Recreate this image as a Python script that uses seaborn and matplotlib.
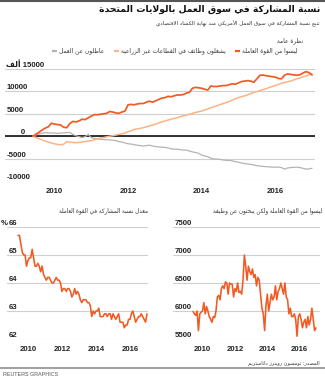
import matplotlib
matplotlib.use("Agg")
import matplotlib.pyplot as plt
from matplotlib.lines import Line2D
import pandas as pd
import seaborn as sns

# ---------------- data (thousands / percent), monthly Jun 2009 .. Jan 2017 ----------------
months = pd.date_range("2009-06-01", "2017-01-01", freq="MS")

not_in_labor_force = [
    0, 450, 900, 1400, 1800, 2100, 2900, 2700, 2600, 2500,
    2000, 1900, 2800, 3300, 3200, 3400, 3800, 3700, 4100, 4500,
    4800, 4800, 4900, 5000, 5100, 5500, 5400, 5200, 5100, 5400,
    5600, 7000, 7100, 7000, 7200, 7300, 7300, 7600, 7800, 7600,
    7900, 8200, 8500, 8600, 8900, 8800, 9000, 9200, 9200, 9300,
    9600, 9800, 10700, 10900, 10800, 10700, 10500, 10300, 11200, 11100,
    11100, 11200, 11300, 11300, 11500, 11700, 11600, 11900, 12200, 12300,
    12400, 12300, 12050, 12800, 13600, 13650, 13500, 13400, 13300, 13200,
    12900, 12800, 13600, 13900, 13800, 13700, 13600, 13700, 14100, 14400,
    14200, 13650]

nonfarm_payrolls = [
    0, -300, -600, -850, -1100, -1300, -1500, -1700, -1850, -1900,
    -1800, -1200, -1350, -1400, -1450, -1400, -1300, -1200, -1100, -1000,
    -800, -600, -450, -300, -150, 0, 100, 250, 400, 550,
    700, 1000, 1250, 1500, 1650, 1750, 1900, 2100, 2300, 2500,
    2700, 2950, 3200, 3400, 3600, 3800, 3950, 4150, 4350, 4550,
    4700, 4900, 5100, 5300, 5450, 5600, 5850, 6100, 6350, 6550,
    6800, 7050, 7300, 7500, 7750, 8050, 8350, 8600, 8850, 9000,
    9250, 9500, 9750, 9950, 10200, 10400, 10600, 10850, 11100, 11300,
    11550, 11800, 12000, 12150, 12300, 12550, 12800, 13000, 13250, 13450,
    13700, 13950]

unemployed = [
    0, 300, 500, 650, 800, 750, 700, 700, 650, 700,
    750, 800, 850, 400, 100, -100, -300, -100, 400, -300,
    -500, -600, -700, -750, -800, -800, -900, -1000, -1200, -1300,
    -1500, -1700, -1750, -1900, -2000, -2100, -2200, -2100, -2000, -2200,
    -2300, -2400, -2450, -2500, -2600, -2800, -2900, -2900, -3000, -3100,
    -3100, -3300, -3500, -3650, -3800, -4200, -4400, -4600, -4900, -5100,
    -5100, -5200, -5300, -5400, -5400, -5500, -5700, -5800, -6000, -6100,
    -6200, -6300, -6400, -6600, -6650, -6750, -6800, -6850, -6900, -6900,
    -6900, -7000, -7350, -7100, -7000, -6950, -6900, -7000, -7150, -7350,
    -7300, -7150]

participation_rate = [
    65.7, 65.7, 65.4, 65.1, 65.0, 65.0, 64.6,
    64.8, 64.9, 64.9, 65.2, 64.9, 64.6, 64.6, 64.7, 64.6, 64.4, 64.6, 64.3,
    64.2, 64.1, 64.2, 64.2, 64.1, 64.0, 64.0, 64.1, 64.2, 64.1, 64.1, 64.0,
    63.7, 63.8, 63.8, 63.7, 63.8, 63.8, 63.7, 63.5, 63.6, 63.8, 63.6, 63.7,
    63.6, 63.4, 63.3, 63.4, 63.4, 63.4, 63.3, 63.3, 63.2, 62.8, 63.0, 62.9,
    63.0, 63.0, 63.1, 62.8, 62.8, 62.8, 62.9, 62.9, 62.8, 62.9, 62.9, 62.7,
    62.9, 62.8, 62.7, 62.8, 62.9, 62.6, 62.6, 62.6, 62.4, 62.5, 62.5, 62.7,
    62.7, 62.9, 63.0, 62.8, 62.6, 62.7, 62.8, 62.8, 62.9, 62.8, 62.7, 62.6,
    62.9]

want_job = [
    5990, 5950, 5920, 6000, 5650, 5950, 5980, 6000, 6150, 5950,
    6080, 6000, 5900, 5850, 5800, 5900, 5880, 6000, 6250, 6280,
    6200, 6400, 6450, 6400, 6520, 6500, 6300, 6500, 6480, 6480,
    6250, 6400, 6350, 6500, 6330, 6350, 6300, 6550, 7000, 6800,
    6550, 6800, 6700, 6650, 6750, 6600, 6650, 6450, 6600, 6550,
    6300, 6050, 5950, 5650, 6100, 6300, 6000, 6150, 6300, 6200,
    6250, 6450, 6200, 6350, 6400, 6500, 6400, 6300, 6500, 6250,
    6200, 5950, 6050, 5900, 5900, 5950, 5850, 5550, 5900, 5950,
    5850, 5700, 5800, 5850, 5700, 5900, 5750, 5850, 6050, 5850,
    5650, 5700]

year_ticks = [2010, 2012, 2014, 2016]
year_labels = ["2010", "2012", "2014", "2016"]
main_ticks = [-10000, -5000, 0, 5000, 10000, 15000]
rate_ticks = [62, 63, 64, 65, 66]
want_ticks = [5500, 6000, 6500, 7000, 7500]

title = "نسبة المشاركة في سوق العمل بالولايات المتحدة"
subtitle = "تتبع نسبة المشاركة في سوق العمل الأمريكي منذ نهاية الكساد الاقتصادي"
section = "نظرة عامة"
legend_labels = ["ليسوا من القوة العاملة",
                 "يشغلون وظائف في القطاعات غير الزراعية",
                 "عاطلون عن العمل"]
unit = "ألف"
left_title = "معدل نسبة المشاركة في القوة العاملة"
right_title = "ليسوا من القوة العاملة ولكن يبحثون عن وظيفة"
source = "المصدر: تومسون رويترز داتاستريم"
credit = "REUTERS GRAPHICS"

# ---------------- Arabic shaping (presentation forms + RTL order) ----------------
FORMS = {
    'ء': ('\uFE80',), 'آ': ('\uFE81', '\uFE82'), 'أ': ('\uFE83', '\uFE84'),
    'ؤ': ('\uFE85', '\uFE86'), 'إ': ('\uFE87', '\uFE88'),
    'ئ': ('\uFE89', '\uFE8A', '\uFE8B', '\uFE8C'), 'ا': ('\uFE8D', '\uFE8E'),
    'ب': ('\uFE8F', '\uFE90', '\uFE91', '\uFE92'), 'ة': ('\uFE93', '\uFE94'),
    'ت': ('\uFE95', '\uFE96', '\uFE97', '\uFE98'), 'ث': ('\uFE99', '\uFE9A', '\uFE9B', '\uFE9C'),
    'ج': ('\uFE9D', '\uFE9E', '\uFE9F', '\uFEA0'), 'ح': ('\uFEA1', '\uFEA2', '\uFEA3', '\uFEA4'),
    'خ': ('\uFEA5', '\uFEA6', '\uFEA7', '\uFEA8'), 'د': ('\uFEA9', '\uFEAA'),
    'ذ': ('\uFEAB', '\uFEAC'), 'ر': ('\uFEAD', '\uFEAE'), 'ز': ('\uFEAF', '\uFEB0'),
    'س': ('\uFEB1', '\uFEB2', '\uFEB3', '\uFEB4'), 'ش': ('\uFEB5', '\uFEB6', '\uFEB7', '\uFEB8'),
    'ص': ('\uFEB9', '\uFEBA', '\uFEBB', '\uFEBC'), 'ض': ('\uFEBD', '\uFEBE', '\uFEBF', '\uFEC0'),
    'ط': ('\uFEC1', '\uFEC2', '\uFEC3', '\uFEC4'), 'ظ': ('\uFEC5', '\uFEC6', '\uFEC7', '\uFEC8'),
    'ع': ('\uFEC9', '\uFECA', '\uFECB', '\uFECC'), 'غ': ('\uFECD', '\uFECE', '\uFECF', '\uFED0'),
    'ف': ('\uFED1', '\uFED2', '\uFED3', '\uFED4'), 'ق': ('\uFED5', '\uFED6', '\uFED7', '\uFED8'),
    'ك': ('\uFED9', '\uFEDA', '\uFEDB', '\uFEDC'), 'ل': ('\uFEDD', '\uFEDE', '\uFEDF', '\uFEE0'),
    'م': ('\uFEE1', '\uFEE2', '\uFEE3', '\uFEE4'), 'ن': ('\uFEE5', '\uFEE6', '\uFEE7', '\uFEE8'),
    'ه': ('\uFEE9', '\uFEEA', '\uFEEB', '\uFEEC'), 'و': ('\uFEED', '\uFEEE'),
    'ى': ('\uFEEF', '\uFEF0'), 'ي': ('\uFEF1', '\uFEF2', '\uFEF3', '\uFEF4'),
}
LAM_ALEF = {'آ': ('\uFEF5', '\uFEF6'), 'أ': ('\uFEF7', '\uFEF8'),
            'إ': ('\uFEF9', '\uFEFA'), 'ا': ('\uFEFB', '\uFEFC')}


def ar(s):
    toks, i = [], 0
    while i < len(s):
        if s[i] == 'ل' and i + 1 < len(s) and s[i + 1] in LAM_ALEF:
            toks.append(('LIG', s[i + 1]))
            i += 2
        else:
            toks.append(s[i])
            i += 1

    def joins_next(t):
        return (not isinstance(t, tuple)) and t in FORMS and len(FORMS[t]) == 4

    def is_letter(t):
        return isinstance(t, tuple) or t in FORMS

    out = []
    for k, t in enumerate(toks):
        prev = toks[k - 1] if k > 0 else None
        nxt = toks[k + 1] if k + 1 < len(toks) else None
        jp = prev is not None and joins_next(prev)
        if isinstance(t, tuple):
            iso, fin = LAM_ALEF[t[1]]
            out.append(fin if jp else iso)
            continue
        if t not in FORMS:
            out.append(t)
            continue
        f = FORMS[t]
        if len(f) == 1:
            out.append(f[0])
            continue
        jn = len(f) == 4 and nxt is not None and is_letter(nxt)
        if jp and jn:
            out.append(f[3])
        elif jp:
            out.append(f[1])
        elif jn:
            out.append(f[2])
        else:
            out.append(f[0])
    return ''.join(out)[::-1]


# ---------------- figure ----------------
W, H = 325, 378
sns.set_theme(style="white")
plt.rcParams["font.family"] = ["Liberation Sans", "DejaVu Sans"]
AR = ["DejaVu Sans"]

RED = "#f15a22"
PEACH = "#fdb385"
GRAY = "#b3b3b3"
GRID = "#cfcfcf"
TXT = "#222222"

fig = plt.figure(figsize=(W / 100, H / 100), dpi=100)
fig.patch.set_facecolor("white")


def px_axes(l, r, t, b):
    return fig.add_axes([l / W, 1 - b / H, (r - l) / W, (b - t) / H])


tyear = months.year + (months.month - 1) / 12.0
df = pd.DataFrame({
    "t": tyear,
    "nilf": not_in_labor_force,
    "nfp": nonfarm_payrolls,
    "unemp": unemployed,
    "rate": participation_rate,
    "want": want_job,
})


def style(ax, xlim, ylim, yticks, ylabels, xpad):
    ax.set_xlim(*xlim)
    ax.set_ylim(*ylim)
    ax.set_yticks(yticks)
    ax.set_yticklabels(ylabels)
    ax.set_xticks(year_ticks)
    ax.set_xticklabels(year_labels)
    ax.set_xlabel("")
    ax.set_ylabel("")
    ax.set_facecolor("none")
    ax.grid(False)
    ax.grid(axis="y", color=GRID, lw=0.8)
    ax.set_axisbelow(True)
    for s in ax.spines.values():
        s.set_visible(False)
    ax.tick_params(axis="y", length=0, pad=-1, labelsize=5.6, labelcolor=TXT)
    ax.tick_params(axis="x", length=0, pad=xpad, labelsize=5.6, labelcolor=TXT)
    for lab in ax.get_yticklabels():
        lab.set_horizontalalignment("left")
        lab.set_verticalalignment("bottom")
        lab.set_fontweight("bold")
    for lab in ax.get_xticklabels():
        lab.set_fontweight("bold")


# main overview chart
ax1 = px_axes(5, 315, 69, 181)
sns.lineplot(data=df, x="t", y="unemp", color=GRAY, lw=0.9, ax=ax1, zorder=3)
sns.lineplot(data=df, x="t", y="nfp", color=PEACH, lw=1.1, ax=ax1, zorder=4)
sns.lineplot(data=df, x="t", y="nilf", color=RED, lw=1.25, ax=ax1, zorder=5)
ax1.axhline(0, color=TXT, lw=1.3, zorder=2)
main_labels = ["-10000", "-5000", "       0", "5000", "10000", ar(unit) + " 15000"]
style(ax1, (2008.656, 2017.08), (-10000, 15000), main_ticks, main_labels, 5.2)

# participation rate
ax2 = px_axes(7, 148, 227, 339)
sns.lineplot(data=df, x="t", y="rate", color=RED, lw=1.15, ax=ax2, zorder=4)
style(ax2, (2008.77, 2017.06), (62, 66), rate_ticks, [str(v) for v in rate_ticks], 5.0)
ax2.text(-0.045, 66, "%", transform=ax2.get_yaxis_transform(), ha="left", va="bottom",
         fontsize=5.6, fontweight="bold", color=TXT)

# want a job
ax3 = px_axes(173, 320, 227, 339)
sns.lineplot(data=df, x="t", y="want", color=RED, lw=1.15, ax=ax3, zorder=4)
style(ax3, (2008.18, 2017.25), (5500, 7500), want_ticks, [str(v) for v in want_ticks], 5.0)

# ---------------- texts ----------------
renderer = fig.canvas.get_renderer()


def fit_text(x_px, y_px, s, width_px, ha="right", weight="normal", color=TXT, family=AR):
    t = fig.text(x_px / W, 1 - y_px / H, s, ha=ha, va="center", fontsize=6,
                 fontweight=weight, color=color, family=family)
    w = t.get_window_extent(renderer).width
    t.set_fontsize(6 * width_px / w)
    return t


fit_text(320, 9, ar(title), 222, weight="bold", color="#111111")
fit_text(320, 24, ar(subtitle), 165, color="#333333")
fit_text(148, 211, ar(left_title), 90, color="#333333")
fit_text(322, 211, ar(right_title), 110, color="#333333")
fit_text(320, 363, ar(source), 72, color="#333333")
fit_text(3, 374, credit, 55, ha="left", color="#555555",
         family=["Liberation Sans Narrow", "Liberation Sans", "DejaVu Sans"])

# legend row (right to left): marker sits left of its text
items = [(legend_labels[0], RED), (legend_labels[1], PEACH), (legend_labels[2], GRAY)]
ly = 51
texts, widths = [], []
for lab, col in items:
    tx = fig.text(0, 1 - ly / H, ar(lab), ha="right", va="center", fontsize=6,
                  color="#333333", family=AR)
    texts.append(tx)
    widths.append(tx.get_window_extent(renderer).width)
mk, g1, g2 = 5, 2, 9
right_px, left_px = 298, 52
fixed = len(items) * (mk + g1) + (len(items) - 1) * g2
scale = (right_px - left_px - fixed) / sum(widths)
x = right_px
for tx, w, (lab, col) in zip(texts, widths, items):
    tx.set_fontsize(6 * scale)
    tx.set_x(x / W)
    x -= w * scale + g1
    fig.add_artist(Line2D([(x - mk) / W, x / W], [1 - ly / H] * 2, color=col, lw=1.6,
                          solid_capstyle="butt", transform=fig.transFigure))
    x -= mk + g2

# section label, same size as the legend text
fig.text(303 / W, 1 - 41 / H, ar(section), ha="right", va="center", fontsize=6 * scale,
         color="#333333", family=AR)

# decorative rules
fig.add_artist(Line2D([0, 1], [1 - 0.8 / H] * 2, color="#555555", lw=1.5, transform=fig.transFigure))
fig.add_artist(Line2D([0, 1], [1 - 368 / H] * 2, color="#999999", lw=1.3, transform=fig.transFigure))

fig.savefig("out.png", dpi=100, facecolor="white")
